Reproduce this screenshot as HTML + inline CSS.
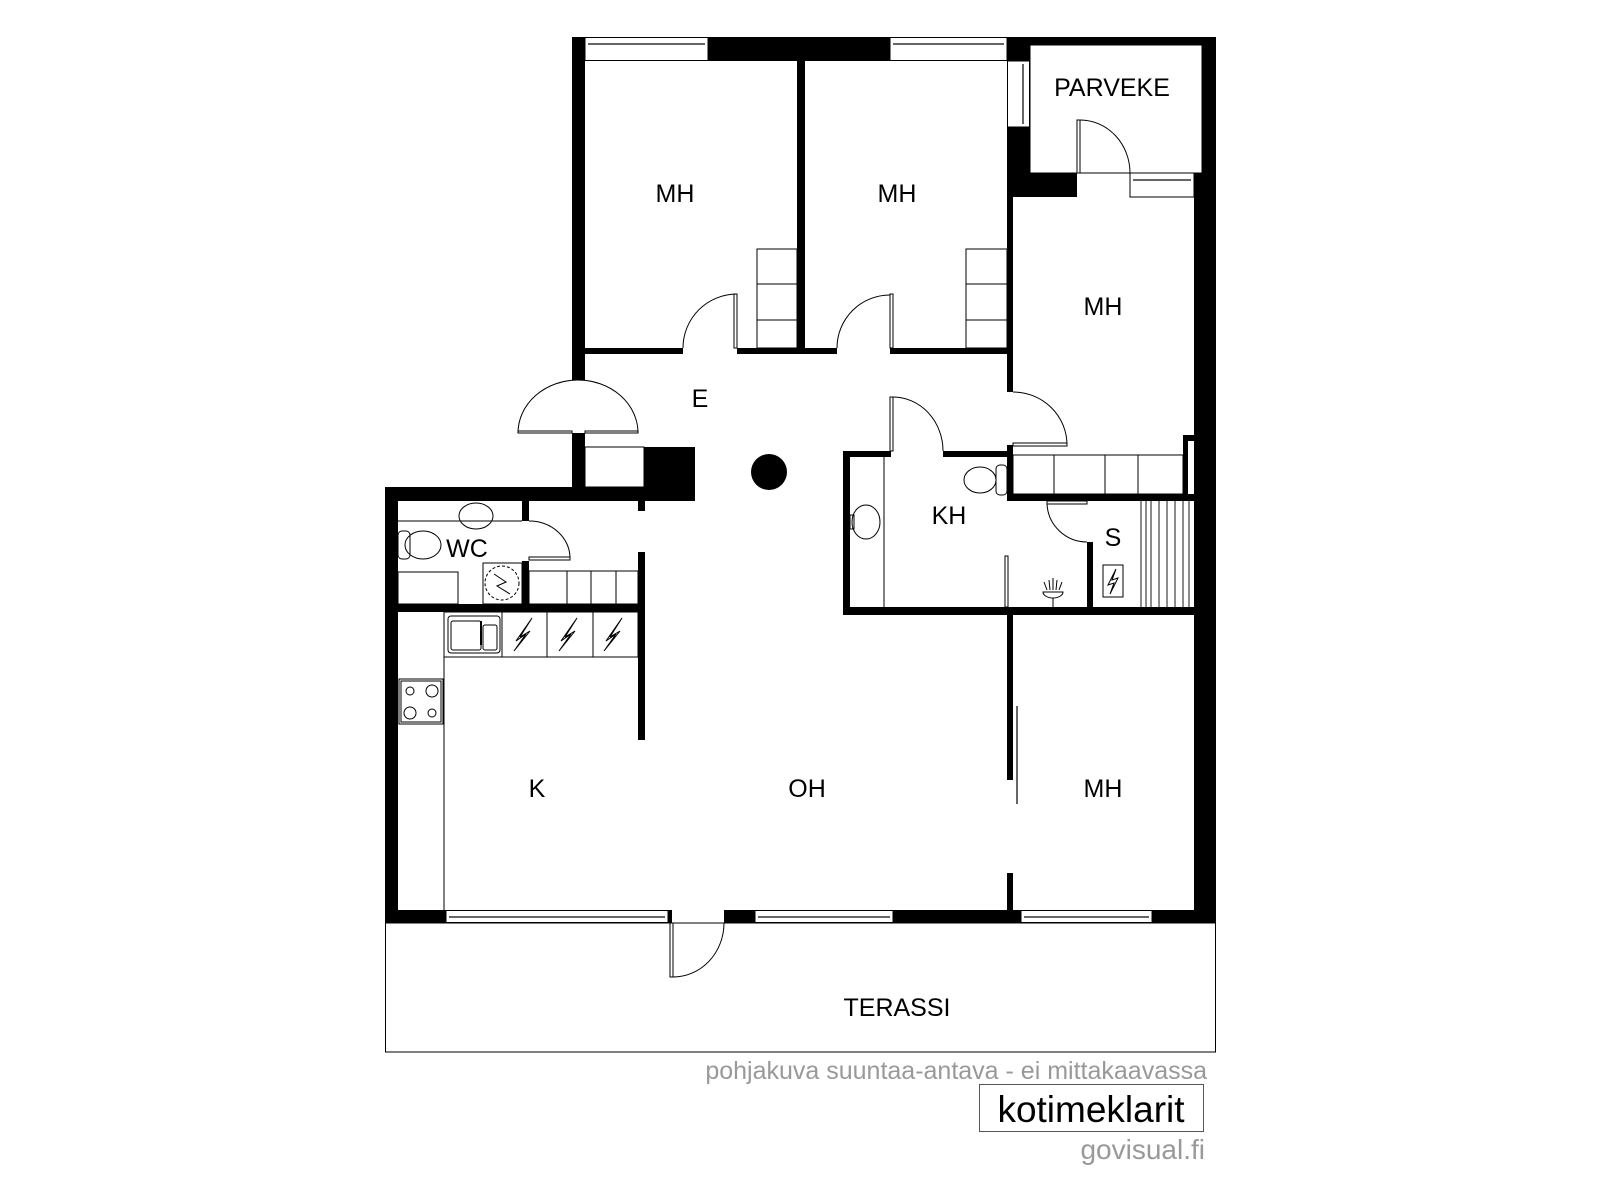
<!DOCTYPE html>
<html><head><meta charset="utf-8"><style>
html,body{margin:0;padding:0;background:#fff;}
svg{display:block;}
text{font-family:"Liberation Sans",sans-serif;}
</style></head><body>
<svg width="1600" height="1200" viewBox="0 0 1600 1200" xmlns="http://www.w3.org/2000/svg">
<g fill="#000">
<rect x="572" y="37" width="13" height="343"/>
<rect x="572" y="433" width="13" height="54"/>
<rect x="572" y="37" width="13" height="24"/>
<rect x="708" y="37" width="182" height="24"/>
<rect x="1007" y="37" width="23" height="24"/>
<rect x="1030" y="37" width="186" height="8"/>
<rect x="1202" y="37" width="14" height="160"/>
<rect x="1007" y="127" width="23" height="70"/>
<rect x="1007" y="173" width="70" height="24"/>
<rect x="797" y="61" width="8" height="293"/>
<rect x="1007" y="61" width="6" height="331"/>
<rect x="585" y="348" width="98" height="6"/>
<rect x="737" y="348" width="100" height="6"/>
<rect x="890" y="348" width="123" height="6"/>
<rect x="1194" y="173" width="22" height="750"/>
<rect x="644" y="447" width="51" height="54"/>
<rect x="385" y="487" width="310" height="14"/>
<rect x="385" y="487" width="13" height="436"/>
<rect x="638" y="501" width="7" height="10"/>
<rect x="638" y="552" width="7" height="188"/>
<rect x="522" y="501" width="7" height="20"/>
<rect x="522" y="561" width="7" height="43"/>
<rect x="398" y="604" width="247" height="8"/>
<rect x="843" y="451" width="7" height="164"/>
<rect x="843" y="451" width="48" height="6"/>
<rect x="943" y="451" width="70" height="6"/>
<rect x="1007" y="445" width="6" height="56"/>
<rect x="1007" y="494" width="187" height="7"/>
<rect x="1183" y="435" width="11" height="6"/>
<rect x="1183" y="435" width="5" height="60"/>
<rect x="1087" y="542" width="6" height="70"/>
<rect x="843" y="607" width="373" height="8"/>
<rect x="1007" y="615" width="6" height="165"/>
<rect x="1007" y="873" width="6" height="40"/>
<rect x="385" y="910" width="61" height="13"/>
<rect x="668" y="910" width="4" height="13"/>
<rect x="724" y="910" width="31" height="13"/>
<rect x="893" y="910" width="128" height="13"/>
<rect x="1152" y="910" width="64" height="13"/>
<circle cx="769" cy="472" r="18"/>
</g>
<g fill="#fff" stroke="#000" stroke-width="1">
<rect x="585" y="37.5" width="123" height="23"/>
<rect x="890" y="37.5" width="117" height="23"/>
<rect x="1007.5" y="61" width="22" height="66"/>
<rect x="1130" y="173" width="64" height="24"/>
<rect x="446" y="910.5" width="222" height="12"/>
<rect x="755" y="910.5" width="138" height="12"/>
<rect x="1021" y="910.5" width="131" height="12"/>
</g>
<g stroke="#666" stroke-width="2" fill="none">
<line x1="588" y1="44" x2="705" y2="44"/>
<line x1="893" y1="44" x2="1004" y2="44"/>
<line x1="1023" y1="64" x2="1023" y2="124"/>
<line x1="1133" y1="180" x2="1191" y2="180"/>
<line x1="449" y1="917" x2="665" y2="917"/>
<line x1="758" y1="917" x2="890" y2="917"/>
<line x1="1024" y1="917" x2="1149" y2="917"/>
</g>
<g fill="none" stroke="#000" stroke-width="1">
<rect x="1030" y="45" width="172" height="128"/>
<path d="M683,348 A54,54 0 0 1 737,294"/><rect x="734" y="294" width="3" height="54"/>
<path d="M837,348 A53,53 0 0 1 890,295"/><rect x="890" y="294" width="3" height="54"/>
<path d="M1080,120 A50,53 0 0 1 1130,173"/><rect x="1077" y="120" width="3" height="53"/>
<path d="M1013,392 A54,53 0 0 1 1067,445"/><rect x="1013" y="443" width="54" height="3"/>
<path d="M893,397 A50,54 0 0 1 943,451"/><rect x="890" y="397" width="3" height="54"/>
<path d="M518,433 A60,53 0 0 1 578,380 A60,53 0 0 1 638,433"/>
<rect x="518" y="431" width="54" height="2"/><rect x="585" y="431" width="53" height="2"/>
<path d="M529,521 A41,37 0 0 1 570,558"/><rect x="529" y="557" width="41" height="3"/>
<path d="M1047,503 A40,40 0 0 0 1087,542"/><rect x="1047" y="501" width="40" height="3"/>
<path d="M673,977 A51,54 0 0 0 724,923"/><rect x="670" y="923" width="3" height="54"/>
<rect x="757" y="249" width="40" height="99"/><line x1="757" y1="284" x2="797" y2="284"/><line x1="757" y1="320" x2="797" y2="320"/>
<rect x="966" y="249" width="41" height="99"/><line x1="966" y1="284" x2="1007" y2="284"/><line x1="966" y1="320" x2="1007" y2="320"/>
<rect x="585" y="447" width="59" height="40"/>
<rect x="1013" y="455" width="170" height="39"/>
<line x1="1054" y1="455" x2="1054" y2="494"/><line x1="1105" y1="455" x2="1105" y2="494"/><line x1="1138" y1="455" x2="1138" y2="494"/>
<rect x="529" y="571" width="109" height="33"/>
<line x1="567" y1="571" x2="567" y2="604"/><line x1="591" y1="571" x2="591" y2="604"/><line x1="616" y1="571" x2="616" y2="604"/>
<line x1="398" y1="521" x2="522" y2="521"/>
<ellipse cx="476" cy="516" rx="17" ry="13"/>
<ellipse cx="423" cy="545" rx="18" ry="14"/><rect x="398" y="531" width="12" height="28" rx="4"/>
<rect x="398" y="572" width="60" height="32"/>
<rect x="483" y="563" width="39" height="41"/>
<circle cx="502" cy="583" r="17" stroke-dasharray="3,2"/>
<polyline points="494,574 506,582 497,586 510,594"/>
<rect x="444" y="612" width="194" height="45"/>
<line x1="502" y1="612" x2="502" y2="657"/><line x1="547" y1="612" x2="547" y2="657"/><line x1="593" y1="612" x2="593" y2="657"/>
<rect x="448" y="616" width="52" height="37" rx="3"/>
<rect x="451" y="621" width="30" height="29" rx="2"/><rect x="483" y="625" width="14" height="25" rx="2"/>
<line x1="481" y1="621" x2="481" y2="645" stroke-width="2"/>
<polyline points="532,618 516,641 526,634 514,651 530,631 520,637 532,618"/>
<polyline points="577,618 561,641 571,634 559,651 575,631 565,637 577,618"/>
<polyline points="622,618 606,641 616,634 604,651 620,631 610,637 622,618"/>
<line x1="444" y1="657" x2="444" y2="910"/>
<rect x="399" y="679" width="44" height="45"/>
<rect x="401" y="681" width="40" height="41"/>
<circle cx="410" cy="691" r="4"/><circle cx="432" cy="691" r="6"/><circle cx="410" cy="713" r="6"/><circle cx="432" cy="713" r="4"/>
<line x1="884" y1="457" x2="884" y2="607"/>
<ellipse cx="866" cy="522" rx="14" ry="17"/>
<rect x="850" y="515" width="4" height="14"/>
<ellipse cx="980" cy="480" rx="16" ry="13"/><rect x="996" y="465" width="11" height="30" rx="4"/>
<rect x="1005" y="556" width="3" height="51"/>
<path d="M1043,592 A10,6 0 0 0 1063,592 Z"/><line x1="1053" y1="598" x2="1053" y2="607"/>
<path d="M1047,590 L1044,582 M1050,590 L1049,580 M1053,590 L1053,578 M1056,590 L1057,580 M1059,590 L1062,582"/>
<rect x="1103" y="565" width="20" height="32"/>
<polyline points="1116,569 1108,585 1114,583 1110,594 1118,578 1112,580 1116,569"/>
</g>
<g stroke="#666" stroke-width="1.5">
<line x1="1141" y1="501" x2="1141" y2="607"/><line x1="1146" y1="501" x2="1146" y2="607"/><line x1="1151" y1="501" x2="1151" y2="607"/><line x1="1159" y1="501" x2="1159" y2="607"/><line x1="1167" y1="501" x2="1167" y2="607"/><line x1="1175" y1="501" x2="1175" y2="607"/><line x1="1183" y1="501" x2="1183" y2="607"/><line x1="1189" y1="501" x2="1189" y2="607"/>
<line x1="1017" y1="706" x2="1017" y2="804" stroke-width="2"/>
</g>
<rect x="385.5" y="923" width="830" height="129" fill="none" stroke="#000" stroke-width="1"/>
<g font-size="25" fill="#000" text-anchor="middle">
<text x="675" y="202">MH</text>
<text x="897" y="202">MH</text>
<text x="1112" y="96">PARVEKE</text>
<text x="1103" y="315">MH</text>
<text x="700" y="407">E</text>
<text x="949" y="524">KH</text>
<text x="1113" y="546">S</text>
<text x="467" y="557">WC</text>
<text x="537" y="797">K</text>
<text x="807" y="797">OH</text>
<text x="1103" y="797">MH</text>
<text x="897" y="1016">TERASSI</text>
</g>
<text x="1207" y="1079" font-size="25" fill="#999" text-anchor="end">pohjakuva suuntaa-antava - ei mittakaavassa</text>
<rect x="979.5" y="1084.5" width="224" height="47" fill="none" stroke="#555" stroke-width="1"/>
<text x="1091" y="1122" font-size="37" fill="#000" text-anchor="middle">kotimeklarit</text>
<text x="1205" y="1159" font-size="28" fill="#999" text-anchor="end">govisual.fi</text>
</svg>
</body></html>
